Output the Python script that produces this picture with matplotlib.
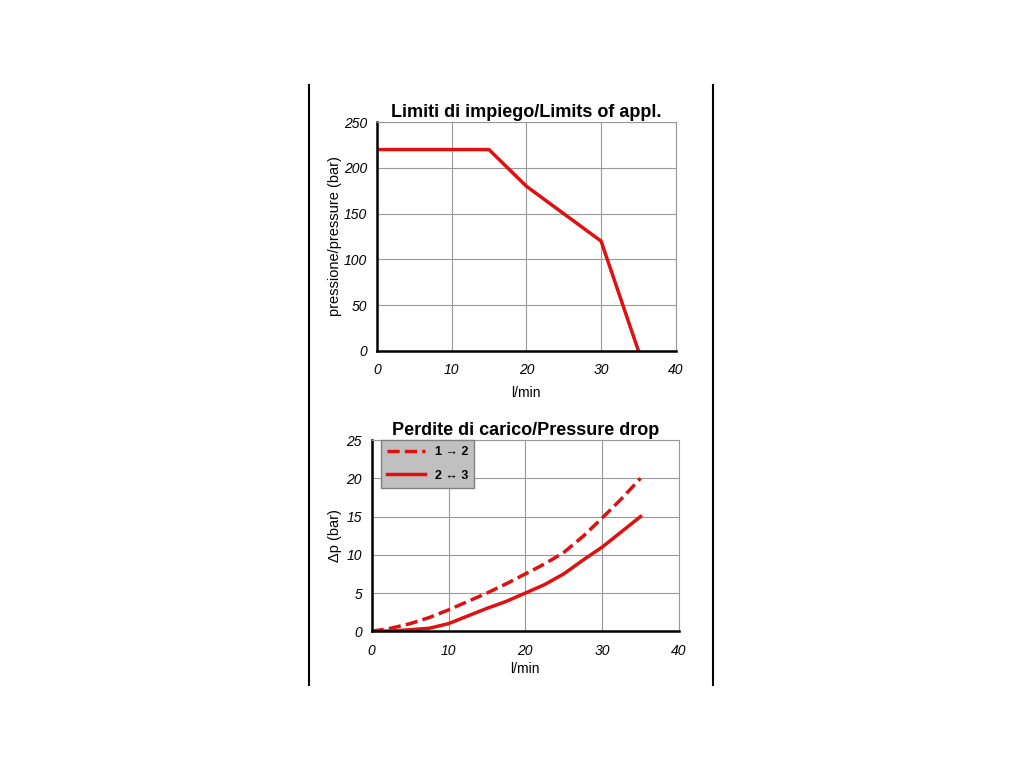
import matplotlib.pyplot as plt
from matplotlib.lines import Line2D

# Limits of application
lim_flow = [0, 15, 20, 30, 35]
lim_pressure = [220, 220, 180, 120, 0]

# Pressure drop curves
drop_flow = [0, 2.5, 5, 7.5, 10, 12.5, 15, 17.5, 20, 22.5, 25, 27.5, 30, 32.5, 35]
drop_12 = [0, 0.4, 1.0, 1.8, 2.8, 3.9, 5.0, 6.2, 7.5, 8.8, 10.3, 12.4, 14.8, 17.3, 20.0]
drop_23 = [0, 0.05, 0.2, 0.4, 1.0, 2.0, 3.0, 3.9, 5.0, 6.1, 7.5, 9.3, 11.0, 13.0, 15.0]

plt.rcParams['font.family'] = ['Liberation Sans', 'DejaVu Sans']
red = '#e01010'

fig = plt.figure(figsize=(10.24, 7.68), dpi=100)

# frame lines either side of the panel
fig.add_artist(Line2D([0.302, 0.302], [0.108, 0.889], color='black', lw=1.5))
fig.add_artist(Line2D([0.696, 0.696], [0.108, 0.889], color='black', lw=1.5))


def style_axes(ax, xmax, ymax, ystep):
    ax.set_xlim(0, xmax)
    ax.set_ylim(0, ymax)
    ax.set_xticks(range(0, xmax + 1, 10))
    ax.set_yticks(range(0, ymax + 1, ystep))
    ax.grid(True, color='#999999', lw=0.8)
    ax.set_axisbelow(True)
    for side in ['top', 'right']:
        ax.spines[side].set_color('#999999')
        ax.spines[side].set_linewidth(0.8)
    for side in ['left', 'bottom']:
        ax.spines[side].set_color('black')
        ax.spines[side].set_linewidth(1.8)
    ax.tick_params(axis='y', length=0, pad=7, labelsize=10)
    ax.tick_params(axis='x', length=0, pad=9, labelsize=10)
    for lbl in ax.get_xticklabels() + ax.get_yticklabels():
        lbl.set_fontstyle('italic')


# top chart
ax1 = fig.add_axes([0.368, 0.543, 0.292, 0.298])
ax1.plot(lim_flow, lim_pressure, color=red, lw=2.5)
style_axes(ax1, 40, 250, 50)
ax1.set_title('Limiti di impiego/Limits of appl.', fontsize=13, fontweight='bold', pad=4)
ax1.set_ylabel('pressione/pressure (bar)', fontsize=10.5, labelpad=1)
ax1.set_xlabel('l/min', fontsize=10, labelpad=6)

# bottom chart
ax2 = fig.add_axes([0.363, 0.178, 0.300, 0.249])
ax2.plot(drop_flow, drop_12, color=red, lw=2.5, ls=(0, (3.5, 1.5)), label='1 → 2')
ax2.plot(drop_flow, drop_23, color=red, lw=2.5, label='2 ↔ 3')
style_axes(ax2, 40, 25, 5)
ax2.set_title('Perdite di carico/Pressure drop', fontsize=13, fontweight='bold', pad=4)
ax2.set_ylabel('Δp (bar)', fontsize=10.5, labelpad=3)
ax2.set_xlabel('l/min', fontsize=10, labelpad=3)
leg = ax2.legend(loc='upper left', bbox_to_anchor=(0.03, 1.0), borderaxespad=0,
                 fontsize=9, fancybox=False, framealpha=1, handlelength=3.0,
                 borderpad=0.5, labelspacing=0.9, handletextpad=0.8)
leg.get_frame().set_facecolor('#c0c0c0')
leg.get_frame().set_edgecolor('#808080')
for t in leg.get_texts():
    t.set_fontweight('bold')

fig.savefig('out.png', dpi=100, facecolor='white')
